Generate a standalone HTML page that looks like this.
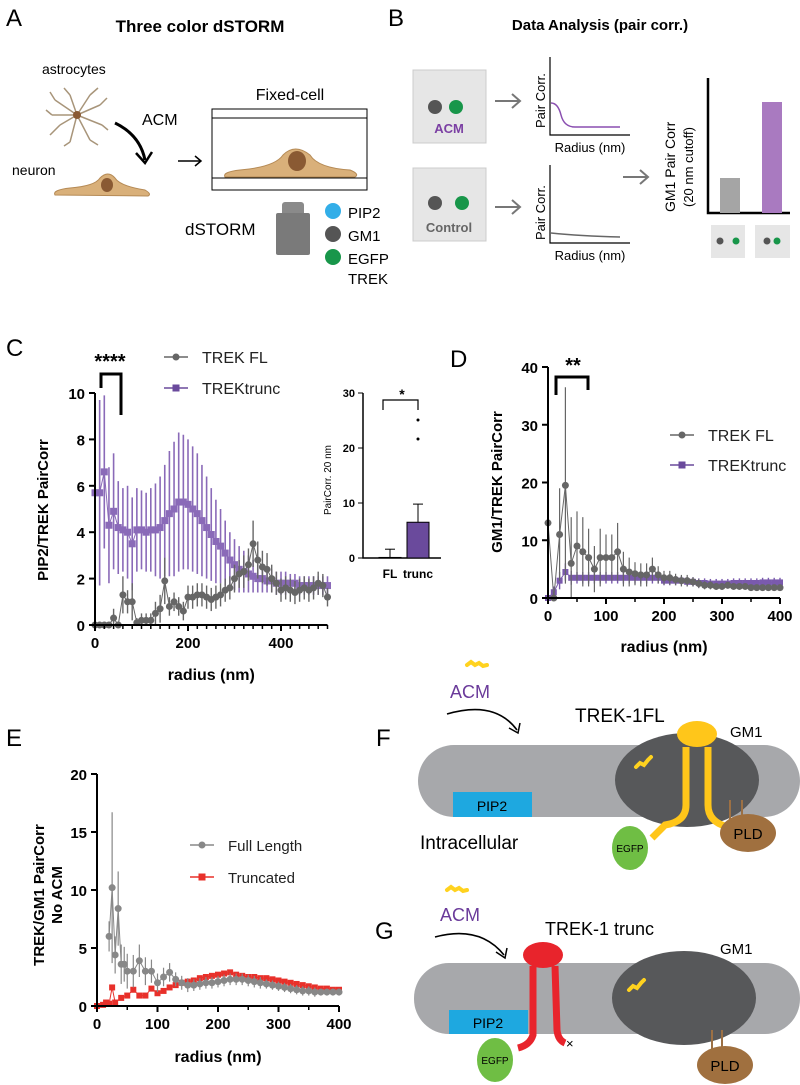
<!DOCTYPE html>
<html><head><meta charset="utf-8"><style>
body{margin:0;background:#fff}
svg{display:block;font-family:"Liberation Sans",Arial,sans-serif}
</style></head><body>
<svg id="fig" width="800" height="1085" viewBox="0 0 800 1085" xmlns="http://www.w3.org/2000/svg">
<!-- PANEL A -->
<g>
<text x="6" y="26" font-size="24">A</text>
<text x="200" y="32" font-size="17" font-weight="bold" text-anchor="middle">Three color dSTORM</text>
<text x="42" y="74" font-size="14">astrocytes</text>
<g stroke="#a8957a" stroke-width="1.5" fill="none">
<path d="M77 115 L55 100 M77 115 L60 125 M77 115 L70 95 M77 115 L90 95 M77 115 L100 105 M77 115 L102 125 M77 115 L90 140 M77 115 L70 142 M77 115 L52 115 M60 125 L50 135 M55 100 L50 92 M90 95 L98 88 M100 105 L107 98 M90 140 L98 145 M70 95 L64 88 M52 115 L46 110 M70 142 L64 146 M102 125 L108 130"/>
<circle cx="77" cy="115" r="4" fill="#8a5a33" stroke="none"/></g>
<text x="142" y="125" font-size="16">ACM</text>
<path d="M115 123 Q140 135 145 160" stroke="#000" stroke-width="3" fill="none"/>
<path d="M136 153 L145 163 L152 152" stroke="#000" stroke-width="2.5" fill="none"/>
<text x="12" y="175" font-size="14">neuron</text>
<path d="M55 195 Q52 190 70 188 Q95 186 100 178 Q108 170 115 178 Q120 186 145 190 Q152 194 148 196 Z" fill="#d9b07a" stroke="#b58a55"/>
<ellipse cx="107" cy="185" rx="6" ry="7" fill="#8a5a33"/>
<path d="M178 161 L200 161 M195 156 L201 161 L195 166" stroke="#000" stroke-width="1.5" fill="none"/>
<text x="290" y="100" font-size="16" text-anchor="middle">Fixed-cell</text>
<g fill="none" stroke="#000" stroke-width="1">
<rect x="212" y="109" width="155" height="81"/><line x1="212" y1="118" x2="367" y2="118"/><line x1="212" y1="178" x2="367" y2="178"/></g>
<path d="M225 177 Q222 172 240 170 Q275 167 283 155 Q295 143 310 155 Q318 168 350 170 Q360 174 355 177 Z" fill="#d9b07a" stroke="#b58a55"/>
<ellipse cx="297" cy="161" rx="9" ry="10" fill="#8a5a33"/>
<text x="185" y="235" font-size="17">dSTORM</text>
<g><rect x="282" y="202" width="22" height="14" rx="3" fill="#8a8a8a"/><rect x="276" y="213" width="34" height="42" rx="2" fill="#7a7a7a"/></g>
<circle cx="333" cy="211" r="8" fill="#33aee8"/><text x="348" y="218" font-size="15">PIP2</text>
<circle cx="333" cy="234" r="8" fill="#555"/><text x="348" y="241" font-size="15">GM1</text>
<circle cx="333" cy="257" r="8" fill="#18964a"/><text x="348" y="264" font-size="15">EGFP</text>
<text x="348" y="284" font-size="15">TREK</text>
</g>
<!-- PANEL B -->
<g>
<text x="388" y="26" font-size="24">B</text>
<text x="600" y="30" font-size="15" font-weight="bold" text-anchor="middle">Data Analysis (pair corr.)</text>
<rect x="413" y="70" width="73" height="73" fill="#e6e6e6" stroke="#ccc"/>
<circle cx="435" cy="107" r="7" fill="#555"/><circle cx="456" cy="107" r="7" fill="#18964a"/>
<text x="449" y="133" font-size="13" font-weight="bold" fill="#7b3fa3" text-anchor="middle">ACM</text>
<rect x="413" y="168" width="73" height="73" fill="#e6e6e6" stroke="#ccc"/>
<circle cx="435" cy="203" r="7" fill="#555"/><circle cx="462" cy="203" r="7" fill="#18964a"/>
<text x="449" y="232" font-size="13" font-weight="bold" fill="#666" text-anchor="middle">Control</text>
<path d="M495 101 L520 101 M512 94 L520 101 L512 108 M495 207 L520 207 M512 200 L520 207 L512 214 M623 177 L648 177 M640 170 L648 177 L640 184" stroke="#777" stroke-width="2" fill="none"/>
<path d="M550 57 L550 135 L630 135 M550 165 L550 243 L630 243" stroke="#000" stroke-width="1.2" fill="none"/>
<path d="M551 103 Q558 103 561 115 Q564 127 575 127 L620 127" stroke="#8a4fb0" stroke-width="1.5" fill="none"/>
<path d="M551 233 Q580 236 620 237" stroke="#666" stroke-width="1.5" fill="none"/>
<text transform="translate(545,128) rotate(-90)" font-size="13">Pair Corr.</text>
<text transform="translate(545,240) rotate(-90)" font-size="13">Pair Corr.</text>
<text x="590" y="152" font-size="13" text-anchor="middle">Radius (nm)</text>
<text x="590" y="260" font-size="13" text-anchor="middle">Radius (nm)</text>
<text transform="translate(675,212) rotate(-90)" font-size="14">GM1 Pair Corr</text>
<text transform="translate(693,207) rotate(-90)" font-size="13">(20  nm cutoff)</text>
<path d="M708 78 L708 213 L790 213" stroke="#000" stroke-width="2.5" fill="none"/>
<rect x="720" y="178" width="20" height="35" fill="#a5a5a5"/>
<rect x="762" y="102" width="20" height="111" fill="#a97ac0"/>
<rect x="711" y="225" width="34" height="33" fill="#e6e6e6"/><circle cx="720" cy="241" r="3.5" fill="#555"/><circle cx="736" cy="241" r="3.5" fill="#18964a"/>
<rect x="755" y="225" width="35" height="33" fill="#e6e6e6"/><circle cx="767" cy="241" r="3.5" fill="#555"/><circle cx="777" cy="241" r="3.5" fill="#18964a"/>
</g>
<!-- CHART LAYERS -->
<g id="chartC"></g>
<g id="chartCi"></g>
<g id="chartD"></g>
<g id="chartE"></g>
<text x="6" y="356" font-size="24">C</text>
<text x="450" y="367" font-size="24">D</text>
<text x="6" y="746" font-size="24">E</text>
<!-- PANEL F -->
<g>
<text x="376" y="746" font-size="24">F</text>
<path d="M467 665 l4 -3 l4 3 l4 -2 l4 3 l4 -1" stroke="#ffd21f" stroke-width="4" fill="none" stroke-linecap="round"/>
<text x="470" y="698" font-size="18" fill="#6a3a9a" text-anchor="middle">ACM</text>
<path d="M447 714 Q495 700 517 730" stroke="#000" stroke-width="1.6" fill="none"/><path d="M509 728 L518 733 L520 723" stroke="#000" stroke-width="1.5" fill="none"/>
<text x="575" y="722" font-size="19">TREK-1FL</text>
<text x="730" y="737" font-size="15">GM1</text>
<rect x="418" y="745" width="382" height="72" rx="36" fill="#a7a8ab"/>
<ellipse cx="687" cy="780" rx="72" ry="47" fill="#57585a"/>
<rect x="453" y="792" width="79" height="25" fill="#1ea8e0"/><text x="492" y="811" font-size="14" text-anchor="middle">PIP2</text>
<text x="420" y="849" font-size="19">Intracellular</text>
<path d="M686 747 L686 805 Q686 822 665 825 L652 838" stroke="#ffc61a" stroke-width="7" fill="none"/>
<path d="M708 747 L708 805 Q708 822 728 827" stroke="#ffc61a" stroke-width="7" fill="none"/>
<ellipse cx="697" cy="734" rx="20" ry="13" fill="#ffc61a"/>
<path d="M636 767 l4 -4 l4 2 l4 -5 l3 -3" stroke="#ffd21f" stroke-width="4" fill="none" stroke-linecap="round"/>
<path d="M730 800 L730 820 M742 800 L742 820" stroke="#9c7044" stroke-width="2"/>
<ellipse cx="748" cy="833" rx="28" ry="19" fill="#a0703f"/><text x="748" y="839" font-size="15" text-anchor="middle">PLD</text>
<ellipse cx="630" cy="848" rx="18" ry="22" fill="#6fbe44"/><text x="630" y="852" font-size="10" text-anchor="middle">EGFP</text>
</g>
<!-- PANEL G -->
<g>
<text x="375" y="939" font-size="24">G</text>
<path d="M447 890 l4 -3 l4 3 l4 -2 l4 3 l4 -1" stroke="#ffd21f" stroke-width="4" fill="none" stroke-linecap="round"/>
<text x="460" y="921" font-size="18" fill="#6a3a9a" text-anchor="middle">ACM</text>
<path d="M435 937 Q480 925 504 955" stroke="#000" stroke-width="1.6" fill="none"/><path d="M496 952 L505 958 L507 948" stroke="#000" stroke-width="1.5" fill="none"/>
<text x="545" y="935" font-size="18">TREK-1 trunc</text>
<text x="720" y="954" font-size="15">GM1</text>
<rect x="414" y="963" width="386" height="71" rx="35" fill="#a7a8ab"/>
<ellipse cx="684" cy="998" rx="72" ry="47" fill="#57585a"/>
<rect x="449" y="1010" width="79" height="24" fill="#1ea8e0"/><text x="488" y="1028" font-size="14" text-anchor="middle">PIP2</text>
<path d="M533 966 L533 1035 Q530 1045 518 1048" stroke="#e8242c" stroke-width="7" fill="none"/>
<path d="M555 966 L557 1030 Q558 1040 565 1043" stroke="#e8242c" stroke-width="7" fill="none"/>
<ellipse cx="543" cy="955" rx="20" ry="13" fill="#e8242c"/>
<text x="566" y="1048" font-size="13">×</text>
<path d="M629 990 l4 -4 l4 2 l4 -5 l3 -3" stroke="#ffd21f" stroke-width="4" fill="none" stroke-linecap="round"/>
<path d="M712 1030 L712 1050 M722 1030 L722 1050" stroke="#9c7044" stroke-width="2"/>
<ellipse cx="725" cy="1065" rx="28" ry="19" fill="#a0703f"/><text x="725" y="1071" font-size="15" text-anchor="middle">PLD</text>
<ellipse cx="495" cy="1060" rx="18" ry="22" fill="#6fbe44"/><text x="495" y="1064" font-size="10" text-anchor="middle">EGFP</text>
</g>
</svg>
<script>
// ---- Panel C data ----
const cRadius = [0,10,20,30,40,50,60,70,80,90,100,110,120,130,140,150,160,170,180,190,200,210,220,230,240,250,260,270,280,290,300,310,320,330,340,350,360,370,380,390,400,410,420,430,440,450,460,470,480,490,500];
const cTrunc = [5.7,5.7,6.6,4.3,4.9,4.2,4.1,4.0,3.5,4.1,4.1,4.0,4.1,4.1,4.2,4.5,4.8,5.0,5.3,5.3,5.2,5.0,4.8,4.5,4.2,3.9,3.6,3.4,3.1,2.8,2.6,2.4,2.3,2.2,2.1,2.0,2.0,1.9,1.9,1.8,1.8,1.8,1.8,1.8,1.7,1.7,1.7,1.7,1.7,1.7,1.7];
const cTruncErr = [4,4,3.3,2.5,2.5,2,1.8,2,2,1.8,1.7,1.7,1.8,2,2.2,2.4,2.7,2.9,3,2.9,2.8,2.7,2.6,2.4,2.2,2,1.8,1.6,1.4,1.2,1.1,1,0.9,0.8,0.7,0.6,0.6,0.5,0.5,0.5,0.5,0.5,0.4,0.4,0.4,0.4,0.4,0.4,0.4,0.4,0.4];
const cFL = [0,0,0,0,0.3,0,1.3,1.0,1.0,0.1,0.2,0.2,0.2,0.5,0.7,1.9,0.8,1.0,0.8,0.6,1.2,1.2,1.3,1.3,1.2,1.1,1.2,1.3,1.5,1.6,2.0,2.2,2.3,2.6,3.5,2.8,2.5,2.4,2.0,1.8,1.5,1.6,1.5,1.4,1.5,1.6,1.5,1.6,1.8,1.7,1.2];
const cFLErr = [0,0,0,0,0.4,0,0.8,0.5,0.8,0.2,0.3,0.3,0.3,0.5,0.6,1,0.4,0.4,0.4,0.4,0.5,0.5,0.5,0.5,0.5,0.5,0.5,0.5,0.5,0.5,0.6,0.6,0.7,0.7,1,0.8,0.7,0.7,0.6,0.5,0.5,0.5,0.5,0.5,0.5,0.5,0.5,0.5,0.5,0.5,0.4];
const cXTicks = [0,200,400];
const cYTicks = [0,2,4,6,8,10];
// inset
const insetCats = ["FL","trunc"];
const insetVals = [0.1,6.5];
const insetErr = [1.5,3.3];
const insetYTicks = [0,10,20,30];
// ---- Panel D data ----
const dRadius = [0,10,20,30,40,50,60,70,80,90,100,110,120,130,140,150,160,170,180,190,200,210,220,230,240,250,260,270,280,290,300,310,320,330,340,350,360,370,380,390,400];
const dFL = [13,0,11,19.5,6,9,8,7,5,7,7,7,8,5,4.5,4.2,4.0,4,5,4,3.5,3.5,3.2,3,3,2.8,2.5,2.2,2.2,2,2,2.2,2,2,2,1.8,1.8,1.8,1.8,1.8,1.8];
const dFLErr = [13,0,8,17,8,6,6,5,4,5,4,4,5,3,2.5,2,2,2,2,1.5,1.2,1.2,1,1,1,0.8,0.8,0.7,0.7,0.6,0.6,0.6,0.5,0.5,0.5,0.5,0.5,0.5,0.5,0.5,0.5];
const dTrunc = [0,1,3,4.5,3.5,3.5,3.5,3.5,3.5,3.5,3.5,3.5,3.5,3.5,3.5,3.5,3.5,3.5,3.5,3.5,3,3,3,3,2.8,2.8,2.6,2.6,2.5,2.5,2.5,2.5,2.6,2.6,2.6,2.6,2.6,2.7,2.7,2.7,2.7];
const dTruncErr = [0,1,1.5,1.5,1.2,1,1,1,1,1,1,1,1,1,1,1,1,1,1,1,0.8,0.8,0.8,0.8,0.8,0.8,0.8,0.8,0.8,0.8,0.8,0.8,0.8,0.8,0.8,0.8,0.8,0.8,0.8,0.8,0.8];
const dXTicks = [0,100,200,300,400];
const dYTicks = [0,10,20,30,40];
// ---- Panel E data ----
const eFLRadius = [20,25,30,35,40,45,50,60,70,80,90,100,110,120,130,140,150,160,170,180,190,200,210,220,230,240,250,260,270,280,290,300,310,320,330,340,350,360,370,380,390,400];
const eFL = [6,10.2,4.4,8.4,3.6,3.6,3.0,3.0,3.9,3.0,3.0,2.0,2.5,2.9,2.3,2.0,1.8,1.8,1.9,2.0,2.0,2.1,2.2,2.3,2.3,2.3,2.2,2.1,2.0,1.9,1.8,1.7,1.6,1.5,1.4,1.3,1.3,1.2,1.2,1.2,1.2,1.2];
const eFLErr = [1.3,6.5,1.6,3.2,1.7,1.5,1.5,1.4,1.4,1.2,1.0,0.8,0.8,0.8,0.6,0.6,0.6,0.5,0.5,0.5,0.5,0.5,0.5,0.5,0.5,0.5,0.5,0.5,0.5,0.4,0.4,0.4,0.4,0.4,0.4,0.4,0.4,0.4,0.3,0.3,0.3,0.3];
const eTrRadius = [0,10,15,20,25,30,40,50,60,70,80,90,100,110,120,130,140,150,160,170,180,190,200,210,220,230,240,250,260,270,280,290,300,310,320,330,340,350,360,370,380,390,400];
const eTr = [0,0.1,0.3,0.2,1.6,0.3,0.7,0.9,1.4,0.9,0.9,1.5,1.1,1.3,1.6,1.8,2.0,2.1,2.2,2.4,2.5,2.6,2.7,2.8,2.9,2.7,2.6,2.5,2.5,2.4,2.4,2.3,2.2,2.1,2.0,1.9,1.8,1.7,1.6,1.5,1.5,1.4,1.4];
const eXTicks = [0,100,200,300,400];
const eYTicks = [0,5,10,15,20];

const NS="http://www.w3.org/2000/svg";
function mk(parent,tag,attrs,text){const e=document.createElementNS(NS,tag);for(const k in attrs)e.setAttribute(k,attrs[k]);if(text!==undefined)e.textContent=text;parent.appendChild(e);return e;}
function lin(d0,d1,r0,r1){return v=>r0+(v-d0)*(r1-r0)/(d1-d0);}

function axes(g,x,y,xt,yt,xmax,ymax,fs,minorStep){
  const ax=mk(g,'path',{d:`M${x(0)} ${y(ymax)} L${x(0)} ${y(0)} L${x(xmax)} ${y(0)}`,stroke:'#000','stroke-width':2,fill:'none'});
  
  
  xt.forEach(v=>{mk(g,'line',{x1:x(v),x2:x(v),y1:y(0),y2:y(0)+6,stroke:'#000','stroke-width':2});
    const t=mk(g,'text',{x:x(v),y:y(0)+23,'font-size':fs,'font-weight':'bold','text-anchor':'middle'},v);
    
    });
  if(minorStep){for(let v=0;v<=xmax;v+=minorStep)mk(g,'line',{x1:x(v),x2:x(v),y1:y(0),y2:y(0)+4,stroke:'#000','stroke-width':1.5});}
  yt.forEach(v=>{mk(g,'line',{x1:x(0)-6,x2:x(0),y1:y(v),y2:y(v),stroke:'#000','stroke-width':2});
    const t=mk(g,'text',{x:x(0)-10,y:y(v)+6,'font-size':fs,'font-weight':'bold','text-anchor':'end'},v);
    
    });
}
function series(g,x,y,rs,vs,es,color,shape,name,ms,ew){
  const sg=mk(g,'g',{});
  
  
  if(es) rs.forEach((r,i)=>{if(es[i]>0)mk(sg,'line',{x1:x(r),x2:x(r),y1:y(Math.max(0,vs[i]-es[i])),y2:y(vs[i]+es[i]),stroke:color,'stroke-width':ew||1.2});});
  mk(sg,'polyline',{points:rs.map((r,i)=>x(r)+','+y(vs[i])).join(' '),stroke:color,'stroke-width':1,fill:'none'});
  rs.forEach((r,i)=>{let m;
    if(shape==='c')m=mk(sg,'circle',{cx:x(r),cy:y(vs[i]),r:ms,fill:color});
    else m=mk(sg,'rect',{x:x(r)-ms,y:y(vs[i])-ms,width:2*ms,height:2*ms,fill:color});
    
    });
}
function legend(g,x0,y0,color,shape,label,fs){
  const lg=mk(g,'g',{});
  
  
  mk(lg,'line',{x1:x0,x2:x0+24,y1:y0,y2:y0,stroke:color,'stroke-width':1.5});
  if(shape==='c')mk(lg,'circle',{cx:x0+12,cy:y0,r:3.5,fill:color});else mk(lg,'rect',{x:x0+8.5,y:y0-3.5,width:7,height:7,fill:color});
  mk(lg,'text',{x:x0+38,y:y0+6,'font-size':fs,fill:'#222'},label);
}
const GRAY='#666', PUR='#6a4a9c', RED='#e8302a', LGRAY='#888';

// Chart C
(function(){const g=document.getElementById('chartC');
 const x=lin(0,400,95,281), y=lin(0,10,625,393);
 series(g,x,y,cRadius,cTrunc,cTruncErr,'#8a6ab8','s','series-trektrunc',3.5,1.6);
 series(g,x,y,cRadius,cFL,cFLErr,GRAY,'c','series-trek-fl',3.5,1.4);
 axes(g,x,y,cXTicks,cYTicks,500,10,15,20);
 mk(g,'text',{x:x(250),y:680,'font-size':16,'font-weight':'bold','text-anchor':'middle'},'radius (nm)');
 mk(g,'text',{transform:'translate(48,510) rotate(-90)','font-size':15,'font-weight':'bold','text-anchor':'middle'},'PIP2/TREK PairCorr');
 mk(g,'path',{d:'M101 388 L101 374 L121 374 L121 415',stroke:'#000','stroke-width':3,fill:'none'});
 mk(g,'text',{x:110,y:368,'font-size':20,'font-weight':'bold','text-anchor':'middle'},'****');
 legend(g,164,357,GRAY,'c','TREK FL',16);
 legend(g,164,388,PUR,'s','TREKtrunc',16);
})();
// Inset
(function(){const g=document.getElementById('chartCi');
 const y=lin(0,30,558,393); const bx=[390,418];
 mk(g,'path',{d:'M363 393 L363 558 L441 558',stroke:'#000','stroke-width':1.5,fill:'none'});
 insetYTicks.forEach(v=>{mk(g,'line',{x1:358,x2:363,y1:y(v),y2:y(v),stroke:'#000'});mk(g,'text',{x:355,y:y(v)+4,'font-size':11,'font-weight':'bold','text-anchor':'end'},v);});
 insetCats.forEach((c,i)=>{
   const b=mk(g,'rect',{x:bx[i]-11,y:y(insetVals[i]),width:22,height:558-y(insetVals[i]),fill:i?'#6a4a9c':'#333',stroke:'#000'});
   
   
   mk(g,'line',{x1:bx[i],x2:bx[i],y1:y(insetVals[i]),y2:y(insetVals[i]+insetErr[i]),stroke:'#000'});
   mk(g,'line',{x1:bx[i]-5,x2:bx[i]+5,y1:y(insetVals[i]+insetErr[i]),y2:y(insetVals[i]+insetErr[i]),stroke:'#000'});
   mk(g,'text',{x:bx[i],y:578,'font-size':12,'font-weight':'bold','text-anchor':'middle'},c);});
 mk(g,'circle',{cx:418,cy:420,r:1.5});mk(g,'circle',{cx:418,cy:439,r:1.5});
 mk(g,'path',{d:'M383 410 L383 400 L418 400 L418 410',stroke:'#000','stroke-width':1.2,fill:'none'});
 mk(g,'text',{x:402,y:399,'font-size':14,'font-weight':'bold','text-anchor':'middle'},'*');
 mk(g,'text',{transform:'translate(331,480) rotate(-90)','font-size':10,'text-anchor':'middle'},'PairCorr. 20 nm');
})();
// Chart D
(function(){const g=document.getElementById('chartD');
 const x=lin(0,400,548,780), y=lin(0,40,598,367);
 series(g,x,y,dRadius,dTrunc,dTruncErr,'#7a5aad','s','series-trektrunc',3,1.4);
 series(g,x,y,dRadius,dFL,dFLErr,GRAY,'c','series-trek-fl',3.5,1.2);
 axes(g,x,y,dXTicks,dYTicks,400,40,15,50);
 mk(g,'text',{x:x(200),y:652,'font-size':16,'font-weight':'bold','text-anchor':'middle'},'radius (nm)');
 mk(g,'text',{transform:'translate(502,482) rotate(-90)','font-size':15,'font-weight':'bold','text-anchor':'middle'},'GM1/TREK PairCorr');
 mk(g,'path',{d:'M556 395 L556 377 L588 377 L588 390',stroke:'#000','stroke-width':3,fill:'none'});
 mk(g,'text',{x:573,y:372,'font-size':20,'font-weight':'bold','text-anchor':'middle'},'**');
 legend(g,670,435,GRAY,'c','TREK FL',16);
 legend(g,670,465,PUR,'s','TREKtrunc',16);
})();
// Chart E
(function(){const g=document.getElementById('chartE');
 const x=lin(0,400,97,339), y=lin(0,20,1006,774);
 series(g,x,y,eTrRadius,eTr,null,RED,'s','series-truncated',3);
 series(g,x,y,eFLRadius,eFL,eFLErr,LGRAY,'c','series-full-length',3.5);
 axes(g,x,y,eXTicks,eYTicks,400,20,15,50);
 mk(g,'text',{x:x(200),y:1062,'font-size':16,'font-weight':'bold','text-anchor':'middle'},'radius (nm)');
 mk(g,'text',{transform:'translate(44,895) rotate(-90)','font-size':15,'font-weight':'bold','text-anchor':'middle'},'TREK/GM1 PairCorr');
 mk(g,'text',{transform:'translate(62,895) rotate(-90)','font-size':15,'font-weight':'bold','text-anchor':'middle'},'No ACM');
 legend(g,190,845,LGRAY,'c','Full Length',15);
 legend(g,190,877,RED,'s','Truncated',15);
})();
</script>
</body></html>
